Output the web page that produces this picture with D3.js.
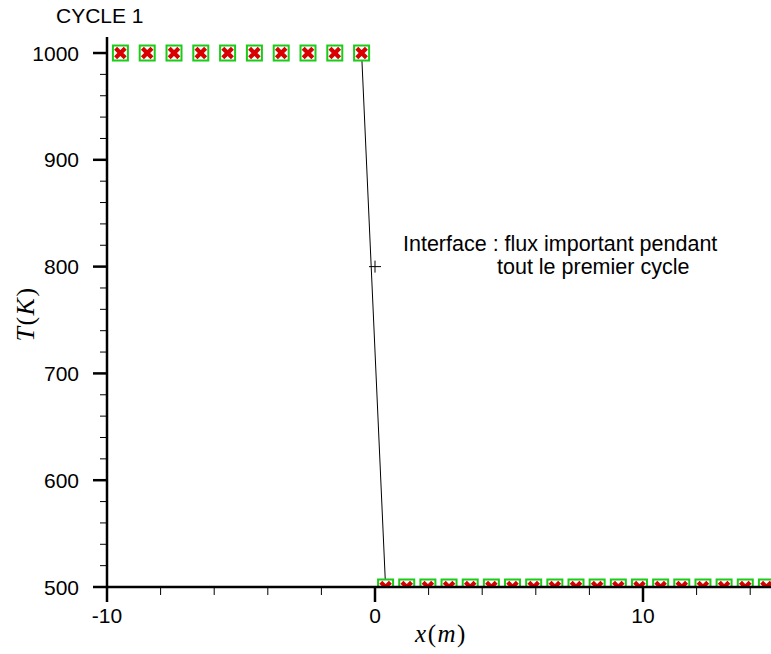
<!DOCTYPE html>
<meta charset="utf-8">
<title>CYCLE 1</title>
<style>
    body { margin: 0; background: #fff; }
    text { font-family: "Liberation Sans", Arial, sans-serif; fill: #000; }
    .math { font-family: "Liberation Serif", "Times New Roman", serif; font-style: italic; }
    .up { font-style: normal; }
</style>

<svg width="771" height="654"></svg>

<script src="https://d3js.org/d3.v7.min.js"></script>
<script>

    // hot side: 10 cells on [-10, 0], cold side: 19 cells on [0, 15]
    var hotX = [-9.5, -8.5, -7.5, -6.5, -5.5, -4.5, -3.5, -2.5, -1.5, -0.5];
    var hotT = [1000, 1000, 1000, 1000, 1000, 1000, 1000, 1000, 1000, 1000];
    var coldX = [0.395, 1.184, 1.974, 2.763, 3.553, 4.342, 5.132, 5.921, 6.711, 7.5,
                 8.289, 9.079, 9.868, 10.658, 11.447, 12.237, 13.026, 13.816, 14.605];
    var coldT = [500, 500, 500, 500, 500, 500, 500, 500, 500, 500,
                 500, 500, 500, 500, 500, 500, 500, 500, 500];
    var xTicks = [-10, 0, 10];
    var yTicks = [500, 600, 700, 800, 900, 1000];
    var crossPoint = [0, 800];
    var noteLines = ["Interface : flux important pendant", "tout le premier cycle"];

    var svg = d3.select("svg");

    var x = d3.scaleLinear().domain([-10, 15]).range([107, 777]);
    var y = d3.scaleLinear().domain([500, 1015]).range([587, 37]);

    var hot = hotX.map(function (d, i) { return { x: d, t: hotT[i] }; });
    var cold = coldX.map(function (d, i) { return { x: d, t: coldT[i] }; });
    var points = hot.concat(cold);

    svg.append("clipPath").attr("id", "plot")
        .append("rect")
        .attr("x", x(-10)).attr("y", y(1015))
        .attr("width", 771 - x(-10)).attr("height", y(500) - y(1015));

    var plot = svg.append("g").attr("clip-path", "url(#plot)");

    // interface segment between last hot and first cold cell
    var line = d3.line()
        .x(function (d) { return x(d.x); })
        .y(function (d) { return y(d.t); });

    plot.append("path")
        .datum([hot[hot.length - 1], cold[0]])
        .attr("d", line)
        .attr("fill", "none")
        .attr("stroke", "#000")
        .attr("stroke-width", 1);

    // small cross on the interface
    plot.append("path")
        .attr("d", "M" + (x(crossPoint[0]) - 6) + "," + y(crossPoint[1]) +
            "h12M" + x(crossPoint[0]) + "," + (y(crossPoint[1]) - 6) + "v12")
        .attr("stroke", "#000")
        .attr("stroke-width", 1);

    var marker = plot.append("g")
        .selectAll("g")
        .data(points)
        .enter().append("g")
        .attr("transform", function (d) {
            return "translate(" + x(d.x) + "," + y(d.t) + ")";
        });

    marker.append("rect")
        .attr("x", -7.5).attr("y", -7.5)
        .attr("width", 15).attr("height", 15)
        .attr("fill", "#fff")
        .attr("stroke", "#18cc18")
        .attr("stroke-width", 2);

    marker.append("path")
        .attr("d", "M-4.8,-4.8L4.8,4.8M4.8,-4.8L-4.8,4.8")
        .attr("stroke", "#d80000")
        .attr("stroke-width", 4.2);

    // y axis
    svg.append("line")
        .attr("x1", x(-10)).attr("x2", x(-10))
        .attr("y1", y(1015)).attr("y2", y(500))
        .attr("stroke", "#000").attr("stroke-width", 2.5);

    svg.append("g").selectAll("line")
        .data(d3.range(520, 1015, 20).filter(function (d) { return d % 100 !== 0; }))
        .enter().append("line")
        .attr("x1", x(-10) - 7).attr("x2", x(-10))
        .attr("y1", function (d) { return y(d); })
        .attr("y2", function (d) { return y(d); })
        .attr("stroke", "#000").attr("stroke-width", 1);

    svg.append("g").selectAll("line")
        .data(yTicks)
        .enter().append("line")
        .attr("x1", x(-10) - 14).attr("x2", x(-10))
        .attr("y1", function (d) { return y(d); })
        .attr("y2", function (d) { return y(d); })
        .attr("stroke", "#000").attr("stroke-width", 2.5);

    svg.append("g").selectAll("text")
        .data(yTicks)
        .enter().append("text")
        .attr("x", 79)
        .attr("y", function (d) { return y(d); })
        .attr("dy", "0.36em")
        .attr("text-anchor", "end")
        .style("font-size", "21px")
        .text(function (d) { return d; });

    // x axis
    svg.append("line")
        .attr("x1", x(-10)).attr("x2", 771)
        .attr("y1", y(500)).attr("y2", y(500))
        .attr("stroke", "#000").attr("stroke-width", 2.5);

    svg.append("g").selectAll("line")
        .data([-8, -6, -4, -2, 2, 4, 6, 8, 12, 14])
        .enter().append("line")
        .attr("x1", function (d) { return x(d); })
        .attr("x2", function (d) { return x(d); })
        .attr("y1", y(500)).attr("y2", y(500) + 8)
        .attr("stroke", "#000").attr("stroke-width", 1);

    svg.append("g").selectAll("line")
        .data(xTicks)
        .enter().append("line")
        .attr("x1", function (d) { return x(d); })
        .attr("x2", function (d) { return x(d); })
        .attr("y1", y(500)).attr("y2", y(500) + 15)
        .attr("stroke", "#000").attr("stroke-width", 2.5);

    svg.append("g").selectAll("text")
        .data(xTicks)
        .enter().append("text")
        .attr("x", function (d) { return x(d); })
        .attr("y", 623)
        .attr("text-anchor", "middle")
        .style("font-size", "21px")
        .text(function (d) { return d; });

    // axis titles
    var xt = svg.append("text").attr("class", "math")
        .attr("x", 441).attr("y", 642)
        .attr("text-anchor", "middle")
        .style("font-size", "25px")
        .style("letter-spacing", "1.5px");
    xt.append("tspan").text("x");
    xt.append("tspan").attr("class", "up").text("(");
    xt.append("tspan").text("m");
    xt.append("tspan").attr("class", "up").text(")");

    var yt = svg.append("text").attr("class", "math")
        .attr("transform", "translate(34,314) rotate(-90)")
        .attr("text-anchor", "middle")
        .style("font-size", "26px")
        .style("letter-spacing", "1.5px");
    yt.append("tspan").text("T");
    yt.append("tspan").attr("class", "up").text("(");
    yt.append("tspan").text("K");
    yt.append("tspan").attr("class", "up").text(")");

    svg.append("text")
        .attr("x", 56).attr("y", 23)
        .style("font-size", "21px")
        .text("CYCLE 1");

    svg.append("text")
        .attr("x", 403).attr("y", 251)
        .style("font-size", "21.5px")
        .text(noteLines[0]);

    svg.append("text")
        .attr("x", 497).attr("y", 274)
        .style("font-size", "21.5px")
        .text(noteLines[1]);

</script>
